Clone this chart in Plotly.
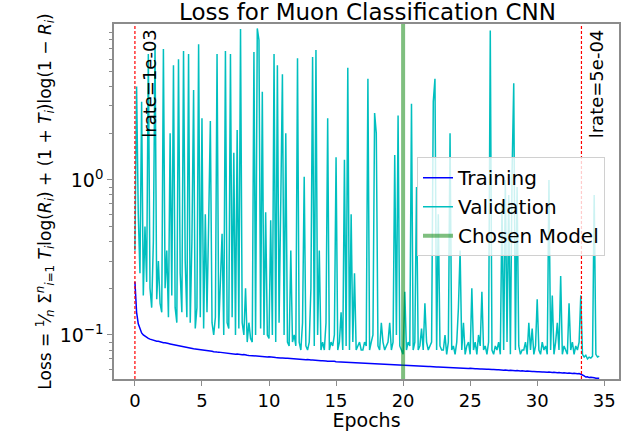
import numpy as np
import plotly.graph_objects as go

# ---------------- data ----------------
samples_per_epoch = 8
validation = [
    0.35, 4.0, 0.6, 0.25, 3.2, 0.18, 0.5, 0.22,          # epoch 0
    6.5, 0.2, 0.15, 0.4, 7.5, 0.17, 0.3, 0.16,           # 1
    0.14, 7.0, 0.2, 0.35, 0.13, 2.0, 0.18, 5.5,          # 2
    0.15, 0.12, 6.0, 0.25, 0.14, 6.8, 0.3, 0.13,         # 3
    6.5, 0.12, 0.4, 3.8, 0.11, 0.15, 7.5, 0.13,          # 4
    2.5, 0.11, 0.6, 0.14, 0.54, 2.4, 0.12, 0.1,          # 5
    0.13, 6.5, 0.11, 0.2, 0.45, 0.1, 6.8, 0.12,          # 6
    0.11, 6.5, 0.13, 1.5, 0.1, 2.1, 0.11, 9.4,           # 7
    0.12, 0.1, 0.2, 0.09, 0.12, 0.095, 0.09, 6.7,        # 8
    0.1, 9.5, 8.0, 0.11, 3.7, 0.1, 0.62, 0.1,            # 9
    0.095, 0.55, 0.1, 6.5, 0.09, 5.5, 0.12, 0.7,         # 10
    4.8, 0.1, 2.0, 0.09, 0.085, 0.35, 0.09, 0.1,         # 11
    0.085, 6.1, 0.09, 0.08, 0.12, 1.05, 0.085, 0.08,     # 12
    0.09, 0.2, 6.2, 0.085, 6.9, 0.1, 0.35, 0.08,         # 13
    0.09, 0.08, 0.12, 2.5, 0.08, 0.09, 0.085, 0.1,       # 14
    1.4, 0.08, 0.09, 0.14, 0.08, 1.35, 0.085, 5.3,       # 15
    0.08, 0.6, 0.09, 0.25, 0.08, 0.085, 0.09, 0.08,      # 16
    0.08, 0.09, 0.085, 4.5, 0.08, 0.09, 0.1, 2.7,        # 17
    2.0, 0.085, 0.08, 0.12, 0.09, 0.08, 0.085, 0.09,     # 18
    0.12, 0.08, 0.09, 1.45, 0.1, 2.6, 0.085, 0.08,       # 19
    0.075, 0.19, 0.08, 0.09, 0.085, 3.1, 0.08, 0.09,     # 20
    0.9, 0.08, 0.085, 0.11, 0.08, 0.16, 0.09, 0.08,      # 21
    0.085, 0.09, 3.2, 4.5, 0.08, 0.6, 0.085, 0.08,       # 22
    0.08, 0.1, 0.075, 0.09, 2.0, 0.08, 0.085, 0.075,     # 23
    0.09, 0.15, 0.35, 0.08, 0.12, 0.075, 0.085, 0.09,    # 24
    0.075, 0.2, 0.08, 0.09, 0.075, 0.1, 0.085, 0.19,     # 25
    0.08, 0.085, 0.075, 0.09, 9.2, 0.08, 0.075, 0.085,   # 26
    0.08, 0.09, 0.075, 0.7, 0.08, 1.0, 0.09, 0.8,        # 27
    0.075, 1.1, 4.2, 0.08, 0.9, 0.085, 0.075, 0.08,      # 28
    0.08, 0.09, 0.075, 0.12, 0.08, 0.11, 0.075, 0.085,   # 29
    0.17, 0.08, 0.075, 0.09, 0.08, 0.085, 0.075, 1.0,    # 30
    0.08, 0.18, 0.075, 0.09, 0.12, 0.08, 0.24, 0.075,    # 31
    0.085, 0.08, 0.075, 0.16, 0.08, 0.09, 0.075, 0.085,  # 32
    0.08, 0.09, 0.18, 0.075, 0.072, 0.074, 0.07, 0.072,  # 33
    0.071, 0.073, 0.8, 0.075, 0.072, 0.073,              # 34
]
training = [
    0.220, 0.140, 0.118, 0.108, 0.103, 0.100, 0.098, 0.096,
    0.095, 0.094, 0.093, 0.093, 0.092, 0.091, 0.091, 0.090,
    0.090, 0.089, 0.089, 0.088, 0.088, 0.0875, 0.087, 0.0865,
    0.086, 0.0857, 0.085, 0.0848, 0.0842, 0.0838, 0.0835, 0.083,
    0.0827, 0.0822, 0.082, 0.0815, 0.0812, 0.081, 0.0805, 0.0803,
    0.080, 0.0798, 0.0795, 0.079, 0.0792, 0.0786, 0.0784, 0.078,
    0.0782, 0.0776, 0.0775, 0.0772, 0.0768, 0.077, 0.0765, 0.0762,
    0.0764, 0.0758, 0.0757, 0.0755, 0.0751, 0.0753, 0.0748, 0.0747,
    0.0745, 0.0747, 0.0741, 0.074, 0.0738, 0.0736, 0.0737, 0.0733,
    0.0732, 0.0734, 0.0729, 0.0728, 0.0726, 0.0727, 0.0723, 0.0722,
    0.0724, 0.072, 0.0718, 0.0719, 0.0715, 0.0714, 0.0716, 0.0711,
    0.071, 0.0712, 0.0708, 0.0707, 0.0705, 0.0706, 0.0702, 0.0701,
    0.0703, 0.0699, 0.0698, 0.0696, 0.0697, 0.0694, 0.0693, 0.0694,
    0.069, 0.0689, 0.069, 0.0687, 0.0686, 0.0684, 0.0685, 0.0682,
    0.0681, 0.0683, 0.0679, 0.0678, 0.0679, 0.0676, 0.0675, 0.0676,
    0.0673, 0.0672, 0.0673, 0.067, 0.0669, 0.067, 0.0667, 0.0666,
    0.0667, 0.0664, 0.0663, 0.0664, 0.0661, 0.066, 0.0661, 0.0658,
    0.0657, 0.0658, 0.0655, 0.0655, 0.0653, 0.0654, 0.0651, 0.0651,
    0.0652, 0.0649, 0.0648, 0.0649, 0.0646, 0.0646, 0.0645, 0.0646,
    0.0643, 0.0642, 0.0643, 0.064, 0.064, 0.0641, 0.0638, 0.0637,
    0.0638, 0.0636, 0.0635, 0.0636, 0.0633, 0.0633, 0.0632, 0.0633,
    0.063, 0.063, 0.0631, 0.0628, 0.0627, 0.0628, 0.0626, 0.0625,
    0.0626, 0.0623, 0.0623, 0.0624, 0.0621, 0.0621, 0.062, 0.0621,
    0.0618, 0.0618, 0.0619, 0.0616, 0.0616, 0.0615, 0.0616, 0.0613,
    0.0613, 0.0614, 0.0611, 0.0611, 0.061, 0.0611, 0.0608, 0.0608,
    0.0609, 0.0606, 0.0606, 0.0605, 0.0606, 0.0603, 0.0603, 0.0604,
    0.0601, 0.0601, 0.06, 0.0601, 0.0598, 0.0598, 0.0599, 0.0596,
    0.0596, 0.0597, 0.0594, 0.0594, 0.0593, 0.0594, 0.0591, 0.0591,
    0.0592, 0.0589, 0.0589, 0.0588, 0.0589, 0.0586, 0.0586, 0.0587,
    0.0584, 0.0584, 0.0585, 0.0582, 0.0582, 0.0581, 0.0582, 0.0579,
    0.0579, 0.058, 0.0577, 0.0577, 0.0578, 0.0575, 0.0575, 0.0576,
    0.0573, 0.0573, 0.0574, 0.0571, 0.0571, 0.0572, 0.0569, 0.0569,
    0.057, 0.0567, 0.0567, 0.0568, 0.0565, 0.0565, 0.0566, 0.0563,
    0.0563, 0.0564, 0.0561, 0.0552, 0.0545, 0.0535, 0.0537, 0.0531,
    0.0533, 0.0528, 0.0529, 0.0526, 0.0527, 0.0525,
]
epochs = np.arange(len(validation)) / samples_per_epoch

lrate_epochs = [0, 33.3]
lrate_labels = ["lrate=1e-03", "lrate=5e-04"]
chosen_epoch = 20
x_ticks = [0, 5, 10, 15, 20, 25, 30, 35]
y_ticks = [0.1, 1]
y_tick_text = ["10<sup>\u22121</sup>", "10<sup>0</sup>"]
y_minor = [0.06, 0.07, 0.08, 0.09, 0.2, 0.3, 0.4, 0.5, 0.6, 0.7, 0.8, 0.9,
           2, 3, 4, 5, 6, 7, 8, 9]

FONT = "DejaVu Sans"
SPINE = "#8c8c8c"

fig = go.Figure()
fig.add_trace(go.Scatter(x=epochs, y=training, mode="lines", name="Training",
                         line=dict(color="#0000ff", width=1.5)))
fig.add_trace(go.Scatter(x=epochs, y=validation, mode="lines", name="Validation",
                         line=dict(color="#00bfbf", width=1.5)))
fig.add_trace(go.Scatter(x=[chosen_epoch, chosen_epoch], y=[1e-3, 1e3], mode="lines",
                         name="Chosen Model",
                         line=dict(color="rgba(0,128,0,0.5)", width=4)))

for xe, lab in zip(lrate_epochs, lrate_labels):
    fig.add_shape(type="line", xref="x", yref="paper", x0=xe, x1=xe, y0=0, y1=1,
                  line=dict(color="rgb(255,0,0)", width=1.2, dash="3px,2px"),
                  layer="above")
    fig.add_annotation(x=xe, y=0.992, xref="x", yref="paper", text=lab,
                       textangle=-90, showarrow=False, xanchor="left", yanchor="top",
                       xshift=2, font=dict(family=FONT, size=18, color="black"))

fig.update_layout(
    width=621, height=431,
    margin=dict(l=114, r=0, t=24, b=52),
    plot_bgcolor="white", paper_bgcolor="white",
    font=dict(family=FONT, size=18, color="black"),
    title=dict(text="Loss for Muon Classification CNN", x=(114 + 621) / 2 / 621,
               xanchor="center", y=1 - 12 / 431, yanchor="middle",
               font=dict(family=FONT, size=23, color="black")),
    showlegend=True,
    legend=dict(x=0.60, y=0.625, xanchor="left", yanchor="top",
                bgcolor="rgba(255,255,255,0.8)", bordercolor="#d0d0d0", borderwidth=1,
                font=dict(family=FONT, size=20, color="black")),
)
fig.update_xaxes(range=[-1.56, 36.1], tickvals=x_ticks, showgrid=False, zeroline=False,
                 showline=True, linecolor=SPINE, linewidth=1.5, mirror=True,
                 ticks="outside", ticklen=5, tickcolor=SPINE, tickwidth=1,
                 tickfont=dict(size=18),
                 title=dict(text="Epochs", font=dict(size=19), standoff=4))
fig.update_yaxes(type="log", range=[-1.284, 1.006], tickvals=y_ticks, ticktext=y_tick_text,
                 showgrid=False, zeroline=False,
                 showline=True, linecolor=SPINE, linewidth=1.5, mirror=True,
                 ticks="outside", ticklen=5, tickcolor=SPINE, tickwidth=1,
                 tickfont=dict(size=19),
                 minor=dict(tickvals=y_minor, ticks="outside", ticklen=3,
                            tickcolor=SPINE, showgrid=False),
                 title=dict(text="Loss = <sup>1</sup>\u2044<sub><i>n</i></sub> "
                                 "\u03a3<sup><i>n</i></sup><sub><i>i</i>=1</sub> "
                                 "<i>T<sub>i</sub></i>log(<i>R<sub>i</sub></i>) + "
                                 "(1 + <i>T<sub>i</sub></i>)log(1 \u2212 <i>R<sub>i</sub></i>)",
                            font=dict(size=17), standoff=4))

fig.write_html("out.html")
